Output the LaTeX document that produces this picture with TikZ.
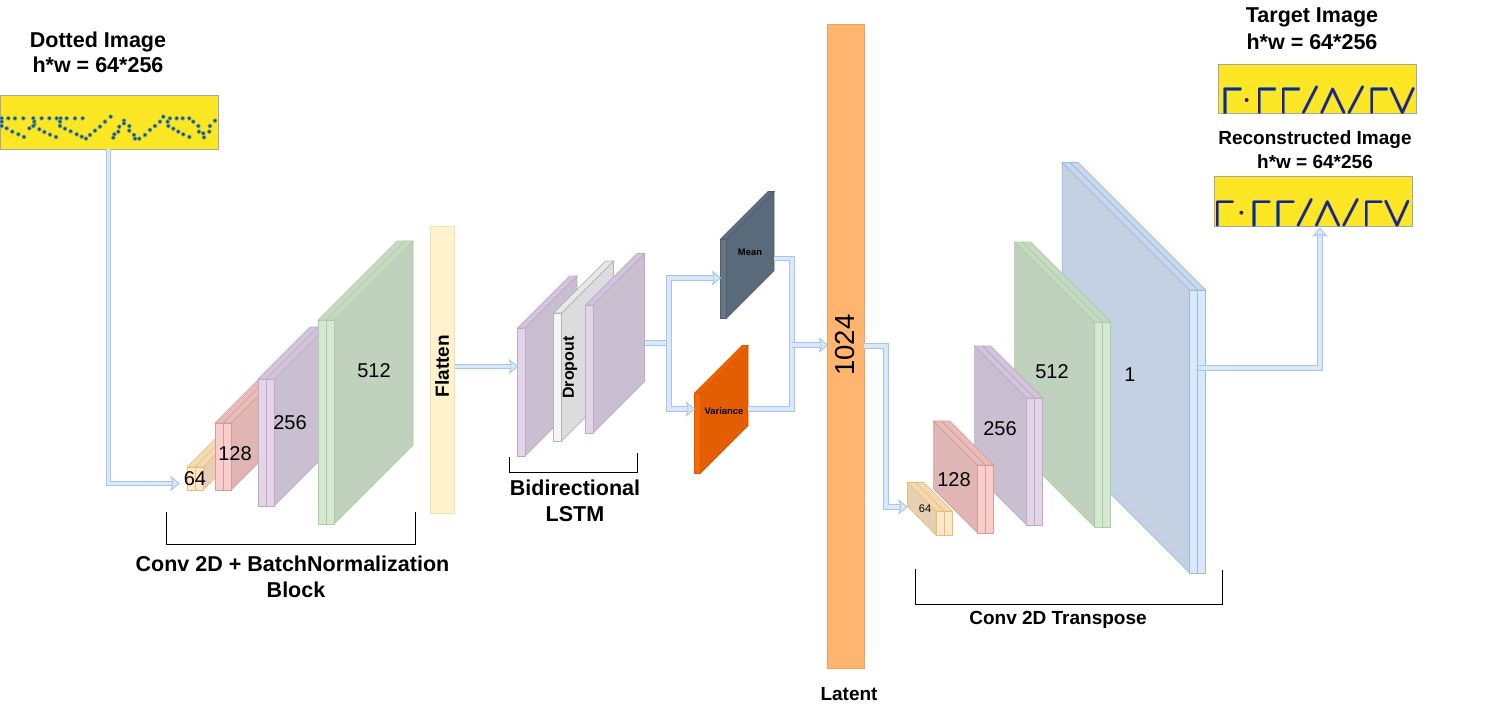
\documentclass[tikz,border=0pt]{standalone}
\usepackage{fontspec}
\setmainfont{Liberation Sans}
\definecolor{orS}{HTML}{FFE6CC}\definecolor{orF}{HTML}{E6D0B4}\definecolor{orT}{HTML}{F4D9B8}\definecolor{orL}{HTML}{EBC06A}
\definecolor{reS}{HTML}{F8CECC}\definecolor{reF}{HTML}{E0B6B4}\definecolor{reT}{HTML}{E8BCB9}\definecolor{reL}{HTML}{DC9A97}
\definecolor{puS}{HTML}{E1D5E7}\definecolor{puF}{HTML}{CABFD0}\definecolor{puT}{HTML}{D2C5D9}\definecolor{puL}{HTML}{BFA9CC}
\definecolor{grS}{HTML}{D5E8D4}\definecolor{grF}{HTML}{C0D1BE}\definecolor{grT}{HTML}{C6DAC3}\definecolor{grL}{HTML}{ABCE9A}
\definecolor{blS}{HTML}{DAE8FC}\definecolor{blF}{HTML}{C4D1E3}\definecolor{blT}{HTML}{C8D7EC}\definecolor{blL}{HTML}{A0BADD}
\definecolor{gyS}{HTML}{F5F5F5}\definecolor{gyF}{HTML}{DCDCDC}\definecolor{gyT}{HTML}{E8E8E8}\definecolor{gyL}{HTML}{B5B5B5}
\definecolor{slS}{HTML}{647687}\definecolor{slF}{HTML}{5A6A7A}\definecolor{slT}{HTML}{5E6F80}\definecolor{slL}{HTML}{4F5F70}
\definecolor{hoS}{HTML}{FA6800}\definecolor{hoF}{HTML}{E25E00}\definecolor{hoT}{HTML}{EC6300}\definecolor{hoL}{HTML}{D85A00}
\definecolor{flatF}{HTML}{FFF2CC}\definecolor{flatL}{HTML}{F2E2AE}
\definecolor{latF}{HTML}{FFB570}\definecolor{latL}{HTML}{EDA35E}
\definecolor{flexF}{HTML}{DAE8FC}\definecolor{flexL}{HTML}{A9C4EB}
\definecolor{plotY}{HTML}{FDE725}\definecolor{plotD}{HTML}{35197A}\definecolor{plotH}{HTML}{2F8F9A}\definecolor{plotN}{HTML}{1F3F80}
\tikzset{
  edge/.style={line width=.7pt,line join=miter},
  title/.style={font=\bfseries\fontsize{21.5}{24}\selectfont,inner sep=0pt,text=black},
  subtitle/.style={font=\bfseries\fontsize{19}{22}\selectfont,inner sep=0pt,text=black},
  num/.style={font=\fontsize{20}{24}\selectfont,inner sep=0pt,text=black},
  tag/.style={font=\bfseries\fontsize{9.4}{11}\selectfont,inner sep=0pt,text=black},
  flex/.style={draw=flexL,line width=.9pt,double=flexF,double distance=3.4pt},
  flexhead/.style={fill=flexF,draw=flexL,line width=.9pt,line join=miter},
  brace/.style={draw=black,line width=1pt},
  plotframe/.style={draw=gray!70,line width=.8pt},
  glyph/.style={line cap=round,line join=round}
}
% Layer whose large face lies to the right of its front slab(s)
\newcommand{\faceR}[5]{% x, top, bottom, depth, palette
  \filldraw[edge,fill=#5F,draw=#5L] (#1,#2) -- (#1+#4,#2-#4) -- (#1+#4,#3-#4) -- (#1,#3) -- cycle;}
\newcommand{\slabR}[6]{% x, top, bottom, depth, slab width, palette
  \filldraw[edge,fill=#6T,draw=#6L] (#1,#2) -- (#1+#4,#2-#4) -- (#1+#4+#5,#2-#4) -- (#1+#5,#2) -- cycle;
  \filldraw[edge,fill=#6S,draw=#6L] (#1,#2) rectangle (#1+#5,#3);}
\newcommand{\blockR}[5]{% x, top, bottom, depth, palette: two slabs and a face
  \faceR{#1+16}{#2}{#3}{#4}{#5}\slabR{#1+8}{#2}{#3}{#4}{8}{#5}\slabR{#1}{#2}{#3}{#4}{8}{#5}}
% Layer whose large face recedes to the upper left of its front slabs
\newcommand{\blockL}[5]{% front x, top, bottom, depth, palette
  \filldraw[edge,fill=#5F,draw=#5L] (#1,#2) -- (#1-#4,#2-#4) -- (#1-#4,#3-#4) -- (#1,#3) -- cycle;
  \filldraw[edge,fill=#5T,draw=#5L] (#1,#2) -- (#1-#4,#2-#4) -- (#1-#4+8,#2-#4) -- (#1+8,#2) -- cycle;
  \filldraw[edge,fill=#5T,draw=#5L] (#1+8,#2) -- (#1-#4+8,#2-#4) -- (#1-#4+16,#2-#4) -- (#1+16,#2) -- cycle;
  \filldraw[edge,fill=#5S,draw=#5L] (#1,#2) rectangle (#1+8,#3);
  \filldraw[edge,fill=#5S,draw=#5L] (#1+8,#2) rectangle (#1+16,#3);}
% Arrow heads of the hollow connectors, placed on their tip coordinate
\newcommand{\headE}[1]{\filldraw[flexhead] (#1) -- ++(-8,-6.5) -- ++(1.5,4.5) -- ++(0,4) -- ++(-1.5,4.5) -- cycle;}
\newcommand{\headN}[1]{\filldraw[flexhead] (#1) -- ++(-6.5,8) -- ++(4.5,-1.5) -- ++(4,0) -- ++(4.5,1.5) -- cycle;}
% Curve strokes of the plotted symbols
\newcommand{\plotline}[1]{\draw[glyph,plotH,line width=3.2pt] #1;\draw[glyph,plotD,line width=2.2pt] #1;}
\newcommand{\targetglyphs}[9]{%
  \plotline{(#1,338)--(#1,267)--(#1+46,267)}
  \fill[plotD] (#2,300) circle (2pt);
  \plotline{(#3,338)--(#3,267)--(#3+46,267)}
  \plotline{(#4,338)--(#4,267)--(#4+46,267)}
  \plotline{(#5,338)--(#5+40,260)}
  \plotline{(#6,338)--(#6+33,267)--(#6+67,338)}
  \plotline{(#7,338)--(#7+41,260)}
  \plotline{(#8,338)--(#8,267)--(#8+45,267)}
  \plotline{(#9,265)--(#9+34,338)--(#9+67,265)}}
\begin{document}
\begin{tikzpicture}[x=1pt,y=-1pt]
\useasboundingbox (0,0) rectangle (1500,706);

% Input plot with its dotted symbols
\filldraw[plotframe,fill=plotY] (0,95) rectangle (218,149);
\node[title] (inTitleA) at (98,41.5) {Dotted Image};
\node[title] (inTitleB) at (98,65) {h*w = 64*256};
\begin{scope}[x=.3333pt,y=-.3333pt]
\foreach \a/\b in {5/355,25/355,45/355,70/355,100/355,125/355,148/355,170/355,182/355,200/355,225/355,248/355,
  5/365,5/378,20/385,37/395,55/403,72/411,103/365,103/374,88/385,100/378,118/388,133/396,150/404,168/411,
  180/365,180/378,195/386,212/394,230/403,245/410,258/416,270/405,285/392,300/380,315/365,332/350,
  340/413,343/403,355/395,358/380,372/362,372/370,388/378,388/392,402/405,405/416,418/416,435/405,450/390,465/378,480/365,490/350,
  510/355,530/355,548/355,568/355,503/365,505/378,520/386,535/395,550/403,568/411,
  580/365,595/378,597/395,610/400,612/412,628/395,630/378,645/362}{
  \fill[plotH!70!plotY] (\a,\b) circle (2.3pt);
  \fill[plotN] (\a,\b) circle (1.5pt);
}
\end{scope}
\coordinate (inOut) at (108.5,149);
\coordinate (firstIn) at (179,483.5);

% Encoder stack
\blockR{187}{467}{490}{30}{or}
\blockR{215}{423}{490}{45}{re}
\blockR{258}{379}{506}{52}{pu}
\blockR{318}{320}{524}{79}{gr}
\node[num] (encA) at (195,478.5) {64};
\node[num] (encB) at (235,453.5) {128};
\node[num] (encC) at (290,422.5) {256};
\node[num] (encD) at (374,370.5) {512};

\filldraw[edge,fill=flatF,draw=flatL] (430,226) rectangle (454,513);
\node[title,font=\bfseries\fontsize{19}{22}\selectfont,rotate=90] (flat) at (442,366) {Flatten};

% Recurrent layers
\faceR{525}{328}{456}{52}{pu}\slabR{517.5}{328}{456}{52}{7.5}{pu}
\faceR{561.5}{313}{441}{52}{gy}\slabR{553.5}{313}{441}{52}{8}{gy}
\faceR{593}{305}{433}{51.5}{pu}\slabR{585.5}{305}{433}{51.5}{7.5}{pu}
\node[title,font=\bfseries\fontsize{16}{19}\selectfont,rotate=90] (drop) at (570,367.5) {Dropout};

% Mean and variance layers
\faceR{726.5}{239}{318}{47.5}{sl}\slabR{720.5}{239}{318}{47.5}{6}{sl}
\faceR{700.5}{393}{473}{47.5}{ho}\slabR{694.5}{393}{473}{47.5}{6}{ho}
\node[tag] (meanTag) at (750,252.5) {Mean};
\node[tag] (varTag) at (724,411) {Variance};

% Latent bar
\filldraw[edge,fill=latF,draw=latL] (827.5,24) rectangle (864,668);
\node[num,font=\fontsize{27.5}{30}\selectfont,rotate=90] (latNum) at (845,345) {1024};
\node[title,font=\bfseries\fontsize{19}{22}\selectfont] (latName) at (849,694.5) {Latent};

% Decoder stack, farthest layer first
\blockL{1189.7}{290}{573}{127.5}{bl}
\blockL{1094.7}{322}{527}{80}{gr}
\blockL{1026.7}{398}{525}{52}{pu}
\blockL{977.7}{465}{533}{44}{re}
\blockL{936}{511}{535}{28.5}{or}
\node[num] (decA) at (1130,374.5) {1};
\node[num] (decB) at (1052,371.5) {512};
\node[num] (decC) at (1000,428.5) {256};
\node[num] (decD) at (954,479.5) {128};
\node[font=\fontsize{11}{13}\selectfont,inner sep=0pt] (decE) at (925,509) {64};

% Output plots
\node[title] (tgtA) at (1312,17.5) {Target Image};
\node[title] (tgtB) at (1312,41.5) {h*w = 64*256};
\filldraw[plotframe,fill=plotY] (1218,64) rectangle (1416,113);
\begin{scope}[shift={(1200,0)},x=.3333pt,y=-.3333pt]
\targetglyphs{75}{140}{178}{250}{310}{365}{447}{515}{573}
\end{scope}
\node[subtitle] (recA) at (1315,139.5) {Reconstructed Image};
\node[subtitle] (recB) at (1315,161.5) {h*w = 64*256};
\filldraw[plotframe,fill=plotY] (1214,176) rectangle (1412,226);
\begin{scope}[shift={(1194.67,112.7)},x=.3333pt,y=-.3333pt]
\targetglyphs{68}{140}{178}{250}{310}{365}{447}{515}{573}
\end{scope}

% Hollow connectors
\coordinate (flatOut) at (455,366.5);
\coordinate (lstmIn) at (517.5,366.5);
\coordinate (lstmOut) at (645,343);
\coordinate (lstmFork) at (669,343);
\coordinate (meanIn) at (720.5,278);
\coordinate (varIn) at (694.5,409);
\coordinate (meanOut) at (774,258.5);
\coordinate (varOut) at (748,409);
\coordinate (mergeAt) at (792,345);
\coordinate (latIn) at (827.5,345);
\coordinate (latOut) at (864,346);
\coordinate (decBend) at (886,507);
\coordinate (decIn) at (907,507);
\coordinate (decOut) at (1197.5,368);
\coordinate (recIn) at (1320,228);

\draw[flex,shorten >=6pt] (inOut) |- (firstIn);\headE{firstIn}
\draw[flex,shorten >=6pt] (flatOut) -- (lstmIn);\headE{lstmIn}
\draw[flex] (lstmOut) -- (lstmFork);
\draw[flex,shorten >=6pt] (lstmFork) |- (meanIn);\headE{meanIn}
\draw[flex,shorten >=6pt] (lstmFork) |- (varIn);\headE{varIn}
\draw[flex] (meanOut) -| (mergeAt);
\draw[flex] (varOut) -| (mergeAt);
\draw[flex,shorten >=6pt] (mergeAt) -- (latIn);\headE{latIn}
\draw[flex,shorten >=6pt] (latOut) -| (decBend) -- (decIn);\headE{decIn}
\draw[flex,shorten >=6pt] (decOut) -| (recIn);\headN{recIn}

% Group brackets and their captions
\draw[brace] (166,512) |- (415,544) -- (415,512);
\node[title] (encCapA) at (292.5,564) {Conv 2D + BatchNormalization};
\node[title] (encCapB) at (296,589.5) {Block};
\draw[brace] (509.5,457) |- (637,472) -- (637,453);
\node[title] (lstmCapA) at (575,488) {Bidirectional};
\node[title] (lstmCapB) at (575,514.5) {LSTM};
\draw[brace] (915,569) |- (1222,604) -- (1222,570);
\node[subtitle] (decCap) at (1058,619.5) {Conv 2D Transpose};
\end{tikzpicture}
\end{document}
